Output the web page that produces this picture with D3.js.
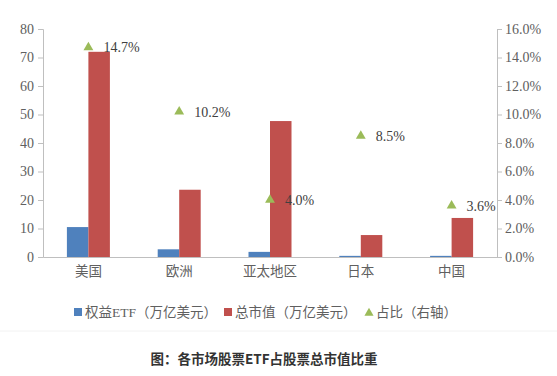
<!DOCTYPE html>
<html>
<head>
<meta charset="utf-8">
<script src="https://cdn.jsdelivr.net/npm/d3@7"></script>
<style>
  body { margin: 0; background: #fff; }
  svg { display: block; }
</style>
</head>
<body>
<div id="container"></div>
<script>
const width = 557;
const height = 376;
const margin = { t: 29, r: 60, b: 119, l: 43 };

const regions = ["美国", "欧洲", "亚太地区", "日本", "中国"];
const etfValues = [10.5, 2.7, 1.8, 0.4, 0.4];
const marketCap = [72, 23.6, 47.7, 7.7, 13.7];
const ratio = [14.7, 10.2, 4.0, 8.5, 3.6];
const leftTicks = [0, 10, 20, 30, 40, 50, 60, 70, 80];
const rightTicks = [0, 2, 4, 6, 8, 10, 12, 14, 16];
const legendItems = ["权益ETF（万亿美元）", "总市值（万亿美元）", "占比（右轴）"];

const blue = "#4f81bd";
const red = "#c0504d";
const green = "#9bbb59";
const axisColor = "#bfbfbf";
const textColor = "#606060";
const font = "'Liberation Serif', 'Noto Sans CJK SC', serif";

const svg = d3.select("#container")
  .append("svg")
  .attr("width", width)
  .attr("height", height);

const x = d3.scaleBand()
  .domain(regions)
  .range([margin.l, width - margin.r])
  .paddingInner(0)
  .paddingOuter(0);

const y = d3.scaleLinear()
  .domain([0, 80])
  .range([height - margin.b, margin.t]);

const y2 = d3.scaleLinear()
  .domain([0, 16])
  .range([height - margin.b, margin.t]);

const barW = 21.5;

// left axis
const yAxis = svg.append("g")
  .attr("transform", `translate(${margin.l},0)`)
  .call(d3.axisLeft(y).tickValues(leftTicks).tickSize(5).tickPadding(4));
yAxis.select(".domain").attr("stroke", axisColor);
yAxis.selectAll(".tick line").attr("stroke", axisColor);
yAxis.selectAll("text")
  .attr("font-family", font).attr("font-size", 14).attr("fill", textColor);

// right axis
const yAxis2 = svg.append("g")
  .attr("transform", `translate(${width - margin.r},0)`)
  .call(d3.axisRight(y2).tickValues(rightTicks).tickSize(5).tickPadding(3)
    .tickFormat(d => d.toFixed(1) + "%"));
yAxis2.select(".domain").attr("stroke", axisColor);
yAxis2.selectAll(".tick line").attr("stroke", axisColor);
yAxis2.selectAll("text")
  .attr("font-family", font).attr("font-size", 14).attr("fill", textColor);

// bars
svg.selectAll("rect.etf")
  .data(regions)
  .enter()
  .append("rect")
  .attr("class", "etf")
  .attr("x", d => x(d) + x.bandwidth() / 2 - barW)
  .attr("width", barW)
  .attr("y", (d, i) => y(etfValues[i]))
  .attr("height", (d, i) => y(0) - y(etfValues[i]))
  .attr("fill", blue);

svg.selectAll("rect.cap")
  .data(regions)
  .enter()
  .append("rect")
  .attr("class", "cap")
  .attr("x", d => x(d) + x.bandwidth() / 2)
  .attr("width", barW)
  .attr("y", (d, i) => y(marketCap[i]))
  .attr("height", (d, i) => y(0) - y(marketCap[i]))
  .attr("fill", red);

// x axis
const xAxis = svg.append("g")
  .attr("transform", `translate(0,${height - margin.b})`)
  .call(d3.axisBottom(x).tickSize(0).tickPadding(9));
xAxis.select(".domain").attr("stroke", axisColor);
xAxis.selectAll("text")
  .attr("font-family", font).attr("font-size", 13.5).attr("fill", textColor);

// ratio markers
const tri = d3.symbol().type(d3.symbolTriangle).size(42);
svg.selectAll("path.ratio")
  .data(regions)
  .enter()
  .append("path")
  .attr("class", "ratio")
  .attr("d", tri)
  .attr("transform", (d, i) => `translate(${x(d) + x.bandwidth() / 2},${y2(ratio[i])})`)
  .attr("fill", green);

svg.selectAll("text.ratio")
  .data(regions)
  .enter()
  .append("text")
  .attr("class", "ratio")
  .attr("x", d => x(d) + x.bandwidth() / 2 + 15)
  .attr("y", (d, i) => y2(ratio[i]))
  .attr("dy", "0.35em")
  .attr("font-family", font)
  .attr("font-size", 14)
  .attr("fill", "#404040")
  .text((d, i) => ratio[i].toFixed(1) + "%");

// legend
const legendY = 312;
const legendX = [74, 224, 365];
const legend = svg.append("g");
legendItems.forEach((t, i) => {
  if (i < 2) {
    legend.append("rect")
      .attr("x", legendX[i]).attr("y", legendY - 4)
      .attr("width", 8).attr("height", 8)
      .attr("fill", i === 0 ? blue : red);
  } else {
    legend.append("path")
      .attr("d", d3.symbol().type(d3.symbolTriangle).size(36))
      .attr("transform", `translate(${legendX[i] + 4},${legendY + 1})`)
      .attr("fill", green);
  }
  legend.append("text")
    .attr("x", legendX[i] + 11)
    .attr("y", legendY)
    .attr("dy", "0.35em")
    .attr("font-family", font)
    .attr("font-size", 13.5)
    .attr("fill", textColor)
    .text(t);
});

svg.append("line")
  .attr("x1", 0).attr("x2", width)
  .attr("y1", 331).attr("y2", 331)
  .attr("stroke", "#f2f2f2");

svg.append("text")
  .attr("x", 264)
  .attr("y", 359)
  .attr("dy", "0.35em")
  .attr("text-anchor", "middle")
  .attr("font-family", "'Noto Sans CJK SC', sans-serif")
  .attr("font-size", 13.5)
  .attr("font-weight", "bold")
  .attr("fill", "#333")
  .text("图：各市场股票ETF占股票总市值比重");
</script>
</body>
</html>
